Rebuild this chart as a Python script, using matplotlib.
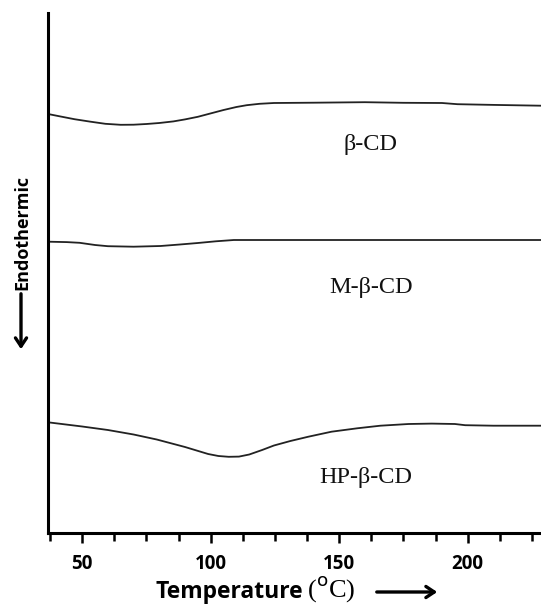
import matplotlib.pyplot as plt
from matplotlib.patches import FancyArrowPatch
from matplotlib.ticker import MultipleLocator

# DSC traces, temperature in deg C and heat flow (arbitrary units, offset per sample)
t_beta = [36.7, 41, 47, 53, 59, 65, 70, 75, 80, 85.5, 90, 95, 100, 105, 110, 114, 119,
          124.6, 140, 160, 175, 190, 196, 210, 228.5]
hf_beta = [419, 416.8, 413.8, 411.4, 409.2, 408.2, 408.3, 409, 410, 411.6, 413.6, 416.2,
           419.6, 423, 426, 427.8, 429.2, 430, 430.3, 430.8, 430.2, 430, 428.8, 428.1, 427.3]

t_mbeta = [36.7, 44, 49, 55, 60, 70, 80.5, 88, 95, 102, 109, 130, 160, 200, 228.5]
hf_mbeta = [291.3, 290.9, 290.2, 288, 286.8, 286.3, 287, 288.5, 290, 291.7, 293, 293, 293,
            293, 293]

t_hpbeta = [36.7, 50, 60, 70, 79, 90, 99, 103, 107, 111, 115, 120, 124.6, 131, 138, 147,
            157, 166, 177, 186, 195, 199, 210, 228.5]
hf_hpbeta = [110.7, 106.5, 103, 98.5, 93.5, 86, 79, 77, 76.2, 76.4, 78.5, 83, 87.5, 92,
             96.3, 101.3, 104.7, 107.3, 109, 109.4, 109, 107.8, 107.3, 107.3]

labels = ["\u03b2-CD", "M-\u03b2-CD", "HP-\u03b2-CD"]
label_t = [162, 162.5, 160.5]
label_hf = [389, 246, 56]

W, H = 541, 613
fig = plt.figure(figsize=(W / 100, H / 100), dpi=100)
ax = fig.add_axes([48 / W, 80 / H, 1 - 48 / W, 520 / H])

line_kw = dict(color="#222222", lw=1.3)
ax.plot(t_beta, hf_beta, **line_kw)
ax.plot(t_mbeta, hf_mbeta, **line_kw)
ax.plot(t_hpbeta, hf_hpbeta, **line_kw)

for name, tx, ty in zip(labels, label_t, label_hf):
    ax.text(tx, ty, name, family="Liberation Serif", fontsize=17.5,
            ha="center", va="center", color="#111111")

ax.set_xlim(36.7, 228.5)
ax.set_ylim(0, 520)

for side in ["top", "right"]:
    ax.spines[side].set_visible(False)
for side in ["left", "bottom"]:
    ax.spines[side].set_linewidth(2.2)

ax.xaxis.set_major_locator(MultipleLocator(50))
ax.xaxis.set_minor_locator(MultipleLocator(12.5))
ax.tick_params(axis="x", which="major", length=7, width=1.8, pad=8)
ax.tick_params(axis="x", which="minor", length=6, width=1.8)
ax.set_yticks([])
for lbl in ax.get_xticklabels():
    lbl.set_family("Open Sans")
    lbl.set_fontweight("bold")
    lbl.set_fontsize(13.5)

# axis titles with direction arrows
fig.text(303 / W, 1 - 592 / H, "Temperature", family="Open Sans", fontweight="bold",
         fontsize=16.5, ha="right", va="center")
fig.text(307 / W, 1 - 589 / H, r"($^{\mathrm{o}}$C)", family="Liberation Serif",
         fontsize=19, ha="left", va="center")
fig.patches.append(FancyArrowPatch(
    (374 / W, 1 - 592 / H), (440 / W, 1 - 592 / H), transform=fig.transFigure,
    arrowstyle="->,head_length=6,head_width=4", lw=2.4, color="black"))

fig.text(22 / W, 1 - 233 / H, "Endothermic", family="Open Sans", fontweight="bold",
         fontsize=13, rotation=90, ha="center", va="center")
fig.patches.append(FancyArrowPatch(
    (21 / W, 1 - 291 / H), (21 / W, 1 - 352 / H), transform=fig.transFigure,
    arrowstyle="->,head_length=6,head_width=4", lw=2.4, color="black"))

fig.savefig("out.png", dpi=100)
